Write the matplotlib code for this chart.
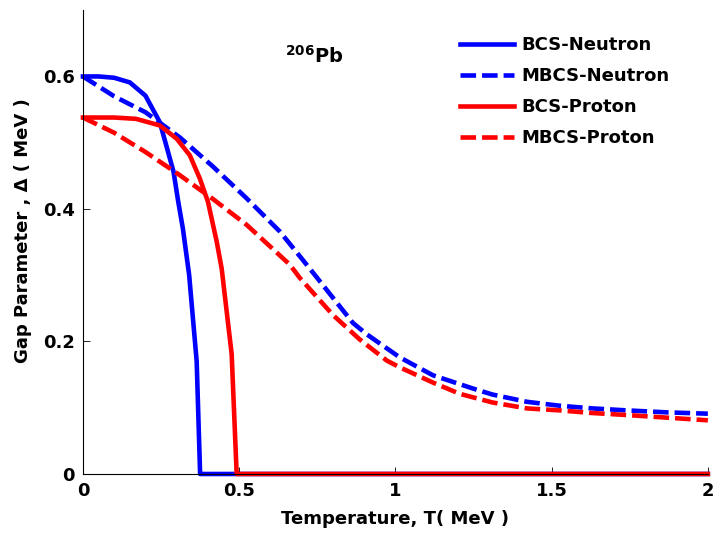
import matplotlib
matplotlib.use('Agg')
import matplotlib.pyplot as plt

plt.rcParams['font.family'] = ['DejaVu Sans']
plt.rcParams['font.weight'] = 'bold'
plt.rcParams['mathtext.fontset'] = 'dejavusans'

# BCS neutron gap
t_bcs_n = [0, 0.05, 0.1, 0.15, 0.2, 0.246, 0.266, 0.29, 0.305, 0.32, 0.34, 0.364, 0.375, 0.38, 1.0, 2.0]
d_bcs_n = [0.600, 0.600, 0.598, 0.591, 0.571, 0.531, 0.497, 0.456, 0.411, 0.370, 0.300, 0.170, 0.0, 0.0, 0.0, 0.0]

# MBCS neutron gap
t_mbcs_n = [0, 0.1, 0.2, 0.31, 0.416, 0.524, 0.63, 0.726, 0.8, 0.864, 0.908, 0.95, 1.014,
            1.12, 1.248, 1.31, 1.42, 1.526, 1.63, 1.74, 1.87, 2.0]
d_mbcs_n = [0.600, 0.570, 0.546, 0.508, 0.464, 0.416, 0.366, 0.310, 0.266, 0.228, 0.211, 0.197, 0.176,
            0.149, 0.129, 0.120, 0.109, 0.103, 0.099, 0.096, 0.093, 0.091]

# BCS proton gap
t_bcs_p = [0, 0.05, 0.1, 0.17, 0.246, 0.3, 0.342, 0.374, 0.4, 0.428, 0.444, 0.476, 0.492, 0.495, 1.0, 2.0]
d_bcs_p = [0.538, 0.538, 0.538, 0.536, 0.526, 0.506, 0.481, 0.446, 0.411, 0.351, 0.310, 0.181, 0.0, 0.0, 0.0, 0.0]

# MBCS proton gap
t_mbcs_p = [0, 0.1, 0.2, 0.31, 0.416, 0.524, 0.662, 0.694, 0.8, 0.886, 0.973, 1.014, 1.12,
            1.206, 1.31, 1.42, 1.526, 1.63, 1.74, 1.87, 2.0]
d_mbcs_p = [0.538, 0.515, 0.486, 0.451, 0.415, 0.376, 0.316, 0.296, 0.240, 0.203, 0.171, 0.161, 0.138,
            0.121, 0.108, 0.099, 0.096, 0.092, 0.089, 0.085, 0.081]

fig = plt.figure(figsize=(7.15, 5.36), dpi=100)
ax = fig.add_axes([0.116, 0.1157, 0.874, 0.8653])

lw = 3.3
dash = (3.4, 1.3)
ax.plot(t_bcs_n, d_bcs_n, '-', color='#0000ff', lw=lw, label='BCS-Neutron', clip_on=False)
ax.plot(t_mbcs_n, d_mbcs_n, '--', color='#0000ff', lw=lw, dashes=dash, label='MBCS-Neutron', clip_on=False)
ax.plot(t_bcs_p, d_bcs_p, '-', color='#ff0000', lw=lw, label='BCS-Proton', clip_on=False)
ax.plot(t_mbcs_p, d_mbcs_p, '--', color='#ff0000', lw=lw, dashes=dash, label='MBCS-Proton', clip_on=False)

ax.set_xlim(0, 2)
ax.set_ylim(0, 0.7)
ax.set_xticks([0, 0.5, 1, 1.5, 2])
ax.set_xticklabels(['0', '0.5', '1', '1.5', '2'])
ax.set_yticks([0, 0.2, 0.4, 0.6])
ax.set_yticklabels(['0', '0.2', '0.4', '0.6'])
ax.tick_params(direction='in', length=5, width=0.6, labelsize=13, pad=6)
for lab in ax.get_xticklabels() + ax.get_yticklabels():
    lab.set_fontweight('bold')

ax.spines['top'].set_visible(False)
ax.spines['right'].set_visible(False)
ax.spines['left'].set_linewidth(0.8)
ax.spines['bottom'].set_linewidth(0.8)

ax.set_xlabel('Temperature, T( MeV )', fontsize=13, fontweight='bold', labelpad=7)
ax.set_ylabel('Gap Parameter , \u0394 ( MeV )', fontsize=13, fontweight='bold')
ax.yaxis.set_label_coords(-0.082, 0.524)

ax.text(0.646, 0.62, r'$\mathbf{^{206}Pb}$', fontsize=14)

ax.legend(loc='upper left', bbox_to_anchor=(0.643, 0.932), bbox_transform=fig.transFigure,
          frameon=False, borderpad=0, borderaxespad=0,
          handlelength=3.0, handletextpad=0.4, labelspacing=0.71, prop={'weight': 'bold', 'size': 13})

fig.savefig('out.png', dpi=100)
